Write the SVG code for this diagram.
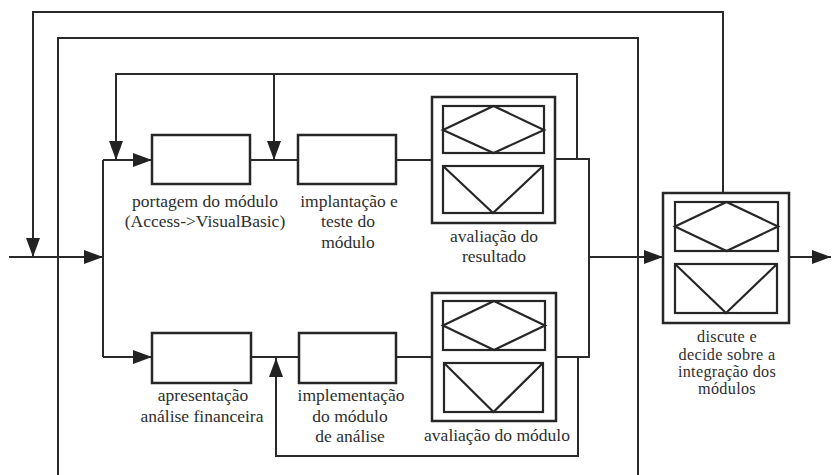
<svg xmlns="http://www.w3.org/2000/svg" width="832" height="475" viewBox="0 0 832 475">
  <style>
    .box { fill: none; stroke: #262626; stroke-width: 2.5; }
    .sym { fill: none; stroke: #262626; stroke-width: 2.2; stroke-linejoin: miter; }
    .wire { fill: none; stroke: #2a2a2a; stroke-width: 2; }
    .arr { marker-end: url(#head); }
    .lbl { font-family: 'Liberation Serif', 'Times New Roman', Tinos, 'Nimbus Roman', 'DejaVu Serif', 'Noto Serif', FreeSerif, serif; font-size: 17.5px; fill: #2e2e2e; text-anchor: middle; }
    .sm { font-size: 16.2px; letter-spacing: 0.3px; }
  </style>
  <defs>
    <marker id="head" markerUnits="userSpaceOnUse" markerWidth="20" markerHeight="14" viewBox="0 0 20 14" refX="19" refY="7" orient="auto">
      <path d="M0,0 L19,7 L0,14 z" fill="#222"/>
    </marker>
  </defs>
  <rect width="832" height="475" fill="#fff"/>

  <g id="connectors">
    <!-- input and split to the two lines of work -->
    <path class="wire arr" d="M9,257 H103"/>
    <path class="wire" d="M103,160 V357"/>
    <path class="wire arr" d="M103,160 H152"/>
    <path class="wire arr" d="M103,357 H152"/>
    <!-- upper line -->
    <path class="wire" d="M250,160 H298"/>
    <path class="wire" d="M396,160 H432"/>
    <path class="wire" d="M555,159 H589 V357 H556"/>
    <path class="wire arr" d="M577,159 V74 H116 V160"/>
    <path class="wire arr" d="M274,74 V160"/>
    <!-- lower line -->
    <path class="wire" d="M251,357 H299"/>
    <path class="wire" d="M396,357 H432"/>
    <path class="wire arr" d="M578,357 V456 H276 V358"/>
    <!-- towards integration and outer loops -->
    <path class="wire arr" d="M589,257 H663"/>
    <path class="wire" d="M58,475 V38 H638 V475"/>
    <path class="wire arr" d="M723,193 V12 H33 V257"/>
    <path class="wire arr" d="M789,257 H831"/>
  </g>

  <g id="porting">
    <rect class="box" x="152" y="135" width="98" height="49"/>
    <text class="lbl" x="205" y="207">portagem do módulo</text>
    <text class="lbl" x="205" y="227">(Access-&gt;VisualBasic)</text>
  </g>

  <g id="deploy-test">
    <rect class="box" x="298" y="135" width="98" height="49"/>
    <text class="lbl" x="349" y="207">implantação e</text>
    <text class="lbl" x="348" y="227">teste do</text>
    <text class="lbl" x="348" y="248">módulo</text>
  </g>

  <g id="result-review">
    <rect class="box" x="432" y="97" width="123" height="126"/>
    <rect class="sym" x="443" y="106" width="101" height="47"/>
    <polygon class="sym" points="443,130 493.5,106 544,130 493.5,153"/>
    <rect class="sym" x="443" y="166" width="100" height="47"/>
    <polyline class="sym" points="443,166 493,213 543,166"/>
    <text class="lbl" x="494" y="242">avaliação do</text>
    <text class="lbl" x="494" y="262">resultado</text>
  </g>

  <g id="presentation">
    <rect class="box" x="152" y="333" width="99" height="50"/>
    <text class="lbl" x="203" y="401">apresentação</text>
    <text class="lbl" x="202" y="422">análise financeira</text>
  </g>

  <g id="analysis-impl">
    <rect class="box" x="299" y="333" width="97" height="50"/>
    <text class="lbl" x="351" y="401">implementação</text>
    <text class="lbl" x="350" y="422">do módulo</text>
    <text class="lbl" x="350" y="442">de análise</text>
  </g>

  <g id="module-review">
    <rect class="box" x="432" y="293" width="124" height="128"/>
    <rect class="sym" x="443" y="301" width="102" height="49"/>
    <polygon class="sym" points="443,325.5 494,301 545,325.5 494,350"/>
    <rect class="sym" x="444" y="363" width="99" height="49"/>
    <polyline class="sym" points="444,363 493.5,412 543,363"/>
    <text class="lbl" x="497" y="441">avaliação do módulo</text>
  </g>

  <g id="integration">
    <rect class="box" x="663" y="193" width="126" height="130"/>
    <rect class="sym" x="675" y="202" width="103" height="49"/>
    <polygon class="sym" points="675,226.5 726.5,202 778,226.5 726.5,251"/>
    <rect class="sym" x="675" y="264" width="102" height="49"/>
    <polyline class="sym" points="675,264 726,313 777,264"/>
    <text class="lbl sm" x="727" y="342">discute e</text>
    <text class="lbl sm" x="727" y="359.5">decide sobre a</text>
    <text class="lbl sm" x="727" y="377">integração dos</text>
    <text class="lbl sm" x="727" y="394">módulos</text>
  </g>
</svg>
